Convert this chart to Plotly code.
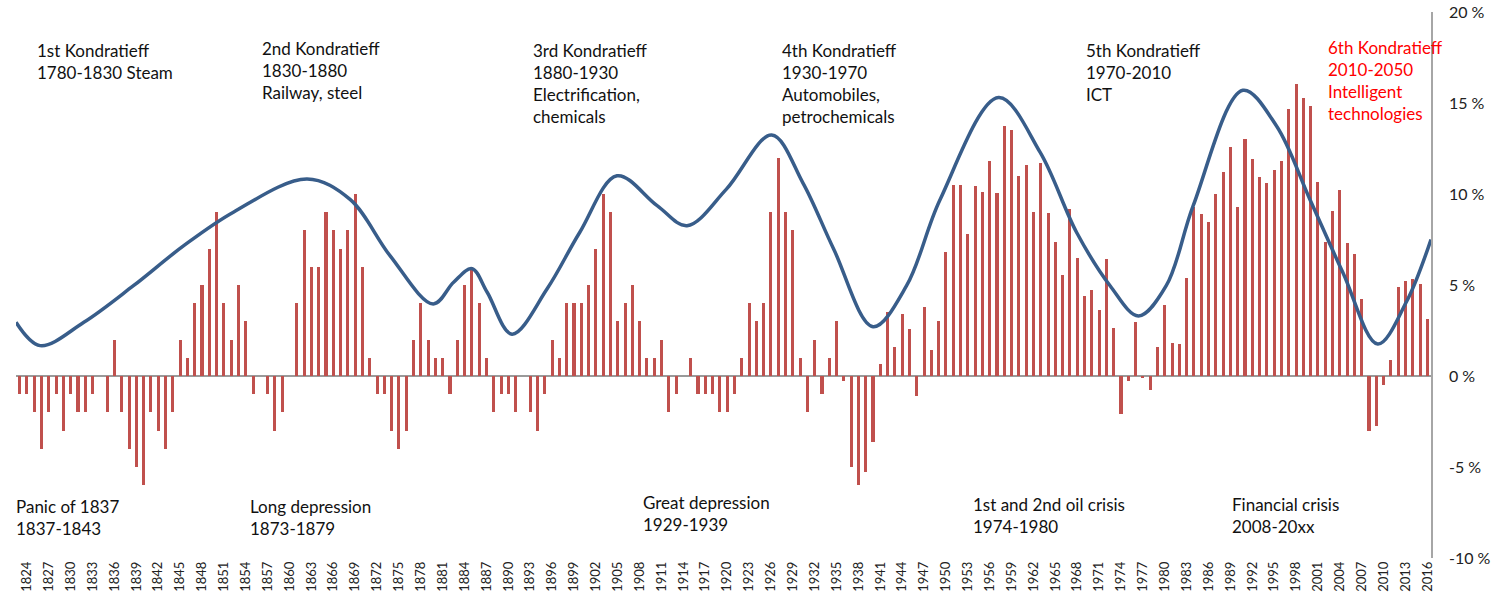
import plotly.graph_objects as go

# ---- data ----
years = list(range(1823, 2017))
growth = [
    # 1823-1854
    -1, -1, -2, -4, -2, -1, -3, -1, -2, -2, -1, 0, -2, 2, -2, -4, -5, -6, -2, -3, -4, -2, 2, 1, 4, 5, 7, 9, 4, 2, 5, 3,
    # 1855-1887
    -1, 0, -1, -3, -2, 0, 4, 8, 6, 6, 9, 8, 7, 8, 10, 6, 1, -1, -1, -3, -4, -3, 2, 4, 2, 1, 1, -1, 2, 5, 6, 4, 1,
    # 1888-1920
    -2, -1, -1, -2, 0, -2, -3, -1, 2, 1, 4, 4, 4, 5, 7, 10, 9, 3, 4, 5, 3, 1, 1, 2, -2, -1, 0, 1, -1, -1, -1, -2, -2,
    # 1921-1953
    -1, 1, 4, 3, 4, 9, 12, 9, 8, 1, -2, 2, -1, 1, 3, -0.3, -5, -6, -5.3, -3.6, 0.65, 3.5, 1.6, 3.4, 2.6, -1.1, 3.8,
    1.45, 3.0, 6.8, 10.5, 10.5, 7.8,
    # 1954-1986
    10.45, 10.1, 11.8, 10.05, 13.75, 13.5, 11.0, 11.6, 9.0, 11.7, 8.95, 7.35, 5.55, 9.2, 6.5, 4.4, 4.7, 3.6, 6.45,
    2.65, -2.1, -0.25, 2.95, -0.13, -0.77, 1.6, 3.9, 1.8, 1.75, 5.4, 9.3, 8.9, 8.45,
    # 1987-2016
    10.0, 11.2, 12.6, 9.3, 13.0, 11.95, 10.95, 10.6, 11.3, 11.8, 14.65, 16.05, 15.3, 14.85, 10.65, 7.35, 9.05, 10.2,
    7.3, 6.7, 4.25, -3.0, -2.75, -0.5, 0.9, 4.9, 5.2, 5.35, 5.05, 3.15,
]

wave_years = [1822.5, 1825.8, 1831.8, 1838.6, 1845.5, 1852.3, 1862.4, 1868.3, 1873.8, 1879.7, 1882.5, 1885.0,
              1887.1, 1890.5, 1895.3, 1899.8, 1904.9, 1910.4, 1914.5, 1919.9, 1926.1, 1930.4, 1934.6, 1940.0,
              1944.6, 1949.2, 1957.2, 1962.9, 1967.9, 1972.5, 1976.4, 1980.2, 1983.9, 1990.7, 1995.3, 1999.9,
              2004.4, 2009.2, 2013.1, 2016.5]
wave_values = [2.95, 1.67, 2.95, 4.96, 7.16, 9.0, 10.82, 9.7, 6.6, 3.96, 5.15, 5.9,
               4.6, 2.3, 4.78, 7.9, 11.0, 9.36, 8.26, 10.27, 13.24, 10.6, 6.98, 2.71,
               4.96, 9.7, 15.3, 12.3, 7.9, 4.96, 3.3, 4.96, 9.36, 15.7, 13.75, 9.7,
               5.7, 1.76, 4.05, 7.5]

tick_years = list(range(1824, 2017, 3))
tick_labels = [str(y) for y in tick_years]
y_ticks = [-10, -5, 0, 5, 10, 15, 20]
y_labels = [f"{v} %" for v in y_ticks]

top_notes = [
    (35, 38, "1st Kondratieff<br>1780-1830 Steam", "#111111"),
    (260, 36, "2nd Kondratieff<br>1830-1880<br>Railway, steel", "#111111"),
    (531, 38, "3rd Kondratieff<br>1880-1930<br>Electrification,<br>chemicals", "#111111"),
    (780, 38, "4th Kondratieff<br>1930-1970<br>Automobiles,<br>petrochemicals", "#111111"),
    (1084, 38, "5th Kondratieff<br>1970-2010<br>ICT", "#111111"),
    (1326, 35, "6th Kondratieff<br>2010-2050<br>Intelligent<br>technologies", "#FF0000"),
]
bottom_notes = [
    (14, 494, "Panic of 1837<br>1837-1843"),
    (248, 494, "Long depression<br>1873-1879"),
    (641, 490, "Great depression<br>1929-1939"),
    (971, 492, "1st and 2nd oil crisis<br>1974-1980"),
    (1230, 492, "Financial crisis<br>2008-20xx"),
]

W, H = 1494, 606
ML, MR, MT, MB = 16, 63, 12, 48
PW, PH = W - ML - MR, H - MT - MB


def px_to_paper(x, y):
    return (x - ML) / PW, 1 - (y - MT) / PH


fig = go.Figure()
fig.add_trace(go.Bar(x=years, y=growth, width=0.42, marker=dict(color="#C0504D", line=dict(width=0)),
                     showlegend=False))
fig.add_trace(go.Scatter(x=wave_years, y=wave_values, mode="lines",
                         line=dict(color="#385D8A", width=3.5, shape="spline", smoothing=1.0),
                         showlegend=False))

annotations = []
font_family = "Lato, Noto Sans, sans-serif"
for x, y, txt, col in top_notes:
    px, py = px_to_paper(x, y)
    annotations.append(dict(x=px, y=py, xref="paper", yref="paper", text=txt, showarrow=False,
                            xanchor="left", yanchor="top", align="left",
                            font=dict(family=font_family, size=17, color=col)))
for x, y, txt in bottom_notes:
    px, py = px_to_paper(x, y)
    annotations.append(dict(x=px, y=py, xref="paper", yref="paper", text=txt, showarrow=False,
                            xanchor="left", yanchor="top", align="left",
                            font=dict(family=font_family, size=17, color="#111111")))

fig.update_layout(
    width=W, height=H,
    margin=dict(l=ML, r=MR, t=MT, b=MB),
    paper_bgcolor="white", plot_bgcolor="white",
    bargap=0,
    annotations=annotations,
    xaxis=dict(range=[1822.5, 2016.5], tickmode="array", tickvals=tick_years, ticktext=tick_labels,
               tickangle=-90, showgrid=False, zeroline=False, showline=False, ticks="",
               tickfont=dict(family=font_family, size=13, color="#222222"), automargin=False),
    yaxis=dict(range=[-10, 20], side="right", tickmode="array", tickvals=y_ticks, ticktext=y_labels,
               showgrid=False, zeroline=True, zerolinecolor="#9A9A9A", zerolinewidth=1.5,
               showline=True, linecolor="#A6A6A6", linewidth=1.5, ticks="",
               ticklabelstandoff=13,
               tickfont=dict(family=font_family, size=16, color="#222222"), automargin=False),
)

fig.write_html("out.html", config={"displayModeBar": False},
               post_script="document.body.style.margin='0';")
